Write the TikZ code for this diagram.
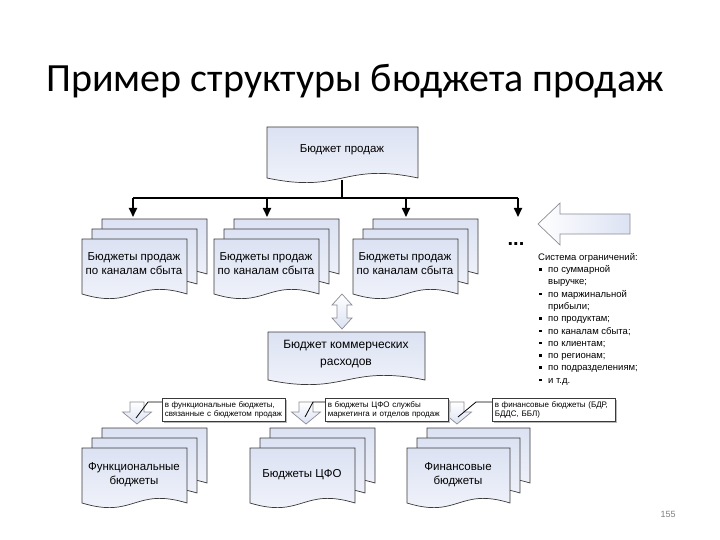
\documentclass[tikz,border=0pt]{standalone}
\usepackage{fontspec}
\setmainfont{Liberation Sans}
\newfontfamily\titlefont{Carlito}
\usetikzlibrary{arrows.meta,shadows}
\definecolor{sheettop}{HTML}{DCE2F3}
\definecolor{sheetbot}{HTML}{F3F5FB}
\definecolor{edge}{HTML}{3A3A3A}
\definecolor{blkedge}{HTML}{8C8C96}
\tikzset{
  sheet/.style={draw=edge, line width=0.7pt, top color=sheettop, bottom color=sheetbot},
  txt/.style={font=\fontsize{11.5}{14}\selectfont, align=center, inner sep=0pt},
  bus/.style={line width=1.7pt, draw=black},
  arr/.style={line width=1.7pt, draw=black, -{Triangle[length=9pt,width=8pt]}},
  blk/.style={draw=blkedge, line width=0.7pt, top color=white, bottom color=sheettop},
  bigblk/.style={draw=blkedge, line width=0.7pt, left color=white, right color=sheettop},
  callbox/.style={draw=edge, line width=0.6pt, fill=white, anchor=north west,
    font=\fontsize{8}{9.5}\selectfont, align=left, text width=118pt, minimum height=23pt,
    inner xsep=2.5pt, inner ysep=2pt,
    drop shadow={shadow xshift=1.5pt, shadow yshift=-1.5pt, fill=gray!55, opacity=1}},
  cline/.style={draw=black, line width=0.8pt}
}
\newcommand\docsheet[4]{%
  \draw[sheet] (#1,#2) -- (#1+#3,#2) -- (#1+#3,#2+#4)
    .. controls (#1+0.5*#3,#2+#4-16) and (#1+0.5*#3,#2+#4+16) .. (#1,#2+#4) -- cycle;}
\newcommand\docstack[4]{%
  \docsheet{#1+20}{#2-20}{#3}{#4}%
  \docsheet{#1+10}{#2-10}{#3}{#4}%
  \docsheet{#1}{#2}{#3}{#4}}
\newcommand\downblk[1]{%
  \draw[blk] (#1-7,402) -- (#1+7,402) -- (#1+7,412) -- (#1+14.5,412) -- (#1,424)
    -- (#1-14.5,412) -- (#1-7,412) -- cycle;}
\newcommand\bul{\makebox[10pt][l]{\hspace{1pt}\raisebox{2pt}{\rule{2.5pt}{2.5pt}}}}
\newcommand\hang{\hspace*{10pt}}
\begin{document}
\begin{tikzpicture}[x=1pt,y=-1pt]
\useasboundingbox (0,0) rectangle (720,540);
\fill[white] (0,0) rectangle (720,540);

% title
\node[font=\titlefont\fontsize{40}{44}\selectfont, anchor=base, inner sep=0pt] (title) at (355,92) {Пример структуры бюджета продаж};

% top document
\docsheet{267}{127}{151}{51}
\node[txt] (sales) at (342,150) {Бюджет продаж};

% bus
\coordinate (salesb) at (342,180);
\coordinate (bus0) at (342,198);
\coordinate (b1) at (133,198);
\coordinate (b2) at (267,198);
\coordinate (b3) at (406,198);
\coordinate (b4) at (518,198);
\coordinate (t1) at (133,217);
\coordinate (t2) at (267,217);
\coordinate (t3) at (406,217);
\coordinate (t4) at (518,217);
\draw[bus] (salesb) -- (bus0);
\draw[bus] (b1) -- (b4);
\draw[arr] (b1) -- (t1);
\draw[arr] (b2) -- (t2);
\draw[arr] (b3) -- (t3);
\draw[arr] (b4) -- (t4);

% channel stacks
\docstack{82}{239}{105}{55}
\docstack{214}{239}{105}{55}
\docstack{353}{239}{105}{55}
\node[txt] (ch1) at (134,264) {Бюджеты продаж\\по каналам сбыта};
\node[txt] (ch2) at (266,264) {Бюджеты продаж\\по каналам сбыта};
\node[txt] (ch3) at (405,264) {Бюджеты продаж\\по каналам сбыта};

\node[font=\bfseries\fontsize{20}{20}\selectfont, anchor=base, inner sep=0pt] (dots) at (516,245) {...};

% big left arrow
\draw[bigblk] (538,224) -- (560,203) -- (560,214) -- (630,214) -- (630,234)
  -- (560,234) -- (560,245) -- cycle;

% constraints
\node[anchor=north west, inner sep=0pt, align=left, font=\fontsize{9.5}{12.3}\selectfont] (cons) at (538,253) {%
Система ограничений:\\
\bul по суммарной\\
\hang выручке;\\
\bul по маржинальной\\
\hang прибыли;\\
\bul по продуктам;\\
\bul по каналам сбыта;\\
\bul по клиентам;\\
\bul по регионам;\\
\bul по подразделениям;\\
\bul и т.д.};

% double arrow
\draw[blk] (342,294) -- (352,305) -- (347,305) -- (347,318) -- (352,318) -- (342,329)
  -- (332,318) -- (337,318) -- (337,305) -- (332,305) -- cycle;

% commercial expenses
\docsheet{268}{332}{157}{48}
\node[txt, font=\fontsize{12}{17}\selectfont] (comm) at (346,354) {Бюджет коммерческих\\расходов};

% down block arrows
\downblk{137}
\downblk{306}
\downblk{457}
\coordinate (a1) at (136,418);
\coordinate (a2) at (305,417);
\coordinate (a3) at (458,417);

% callouts
\node[callbox] (c1) at (162,398) {в функциональные бюджеты,\\связанные с бюджетом продаж};
\node[callbox] (c2) at (325,398) {в бюджеты ЦФО службы\\маркетинга и отделов продаж};
\node[callbox] (c3) at (492,398) {в финансовые бюджеты (БДР,\\БДДС, ББЛ)};
\draw[cline] ([yshift=-4pt]c1.north west) -- ++(-14,0) -- (a1);
\draw[cline] ([yshift=-4pt]c2.north west) -- ++(-12,0) -- (a2);
\draw[cline] ([yshift=-4pt]c3.north west) -- ++(-16,0) -- (a3);

% bottom stacks
\docstack{82}{448}{105}{55}
\docstack{250}{448}{105}{55}
\docstack{407}{448}{103}{55}
\node[txt] (fb) at (134,475) {Функциональные\\бюджеты};
\node[txt] (cfo) at (302,475) {Бюджеты ЦФО};
\node[txt] (fin) at (458,475) {Финансовые\\бюджеты};

% page number
\node[text=gray, font=\fontsize{9}{9}\selectfont, inner sep=0pt] (pg) at (668,514) {155};
\end{tikzpicture}
\end{document}
